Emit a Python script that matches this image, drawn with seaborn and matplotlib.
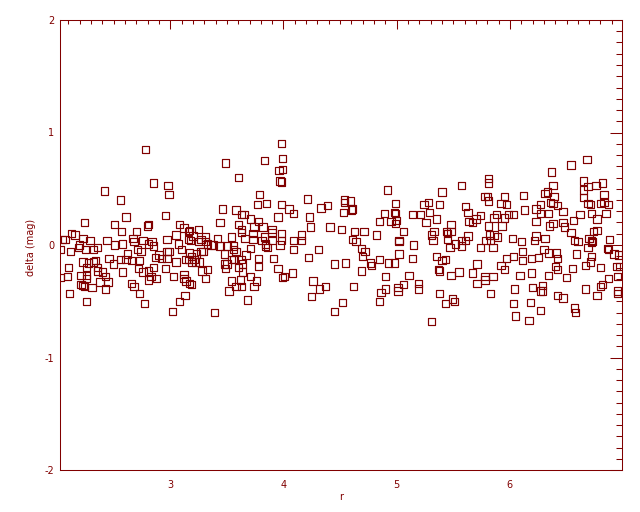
import matplotlib
matplotlib.use("Agg")
import matplotlib.pyplot as plt
from matplotlib.ticker import MultipleLocator
import seaborn as sns
import pandas as pd

# r values left to right (roughly in strips)
r = [
    2.42, 2.24, 2.51, 2.13, 2.16, 2.05, 2.07, 2.23, 2.03, 2.12, 2.20, 2.19, 2.25, 2.29, 2.32,
    2.36, 2.44, 2.51, 2.23, 2.28, 2.34, 2.32, 2.46, 2.50, 2.10, 2.26, 2.36, 2.36, 2.40, 2.43,
    2.21, 2.26, 2.26, 2.03, 2.09, 2.21, 2.23, 2.24, 2.31, 2.38, 2.45, 2.43, 2.11, 2.26,
    2.78, 2.85, 2.98, 2.99, 2.56, 2.61, 2.96, 2.80, 2.81, 2.57, 2.70, 2.67, 2.68, 2.76, 2.97,
    2.58, 2.81, 2.84, 2.85, 2.71, 2.74, 2.62, 2.61, 2.87, 2.90, 2.92, 2.97, 2.99, 2.97, 2.56,
    2.66, 2.73, 2.58, 2.72, 2.76, 2.81, 2.85, 2.96, 2.83, 2.81, 2.88, 3.03, 2.66, 2.68, 2.73,
    2.77, 3.02,
    3.49, 3.46, 3.44, 3.08, 3.12, 3.25, 3.17, 3.16, 3.05, 3.20, 3.27, 3.31, 3.42, 3.54, 3.16,
    3.18, 3.25, 3.31, 3.33, 3.36, 3.38, 3.44, 3.50, 3.07, 3.10, 3.29, 3.27, 3.17, 3.48, 3.23,
    3.19, 3.16, 3.14, 3.21, 3.22, 3.26, 3.19, 3.05, 3.48, 3.50, 3.49, 3.54, 3.28, 3.33, 3.12,
    3.31, 3.14, 3.12, 3.17, 3.19, 3.54, 3.52, 3.13, 3.08, 3.39,
    3.98, 3.83, 3.99, 3.96, 3.99, 3.97, 3.98, 3.60, 3.79, 3.77, 3.85, 3.98, 4.05, 3.58, 3.63,
    3.65, 3.71, 3.78, 3.95, 3.60, 3.63, 3.63, 3.74, 3.82, 3.90, 3.90, 3.98, 3.98, 3.73, 3.73,
    3.66, 3.83, 3.81, 3.90, 3.84, 3.86, 3.84, 3.97, 3.56, 3.56, 3.58, 3.71, 3.67, 3.56, 3.63,
    3.78, 3.91, 3.64, 3.60, 3.64, 3.78, 3.95, 3.71, 3.76, 3.62, 4.01, 3.99, 3.58, 3.63, 3.74,
    3.68,
    4.21, 4.09, 4.23, 4.33, 4.39, 4.54, 4.54, 4.53, 4.24, 4.41, 4.51, 4.16, 4.09, 4.16, 4.09,
    4.31, 4.22, 4.45, 4.55, 4.08, 4.26, 4.32, 4.37, 4.25, 4.52, 4.45,
    4.92, 4.59, 4.99, 4.60, 4.61, 4.89, 4.98, 4.99, 5.00, 4.85, 4.95, 4.99, 5.06, 4.63, 4.71,
    4.82, 4.61, 4.64, 5.02, 5.02, 4.69, 4.72, 4.70, 5.02, 4.77, 4.78, 4.85, 4.93, 4.98, 4.69,
    4.90, 5.06, 5.01, 5.01, 4.62, 4.90, 4.86, 4.85,
    5.57, 5.40, 5.24, 5.28, 5.38, 5.14, 5.21, 5.29, 5.26, 5.35, 5.48, 5.33, 5.31, 5.32, 5.44,
    5.48, 5.45, 5.45, 5.15, 5.47, 5.52, 5.57, 5.57, 5.14, 5.35, 5.40, 5.43, 5.37, 5.38, 5.55,
    5.48, 5.11, 5.19, 5.19, 5.38, 5.49, 5.51, 5.43, 5.31,
    5.81, 5.81, 5.78, 5.80, 5.81, 5.95, 5.92, 5.97, 5.61, 5.63, 5.64, 5.67, 5.70, 5.74, 5.86,
    5.88, 5.95, 5.99, 6.03, 5.81, 5.93, 5.63, 5.61, 5.82, 5.86, 5.89, 5.79, 5.83, 5.74, 5.85,
    6.02, 6.10, 5.97, 6.03, 6.11, 6.11, 5.92, 5.95, 5.71, 5.67, 5.78, 5.78, 5.85, 6.09, 5.71,
    6.04, 5.83, 6.03, 6.05,
    6.54, 6.37, 6.38, 6.31, 6.33, 6.12, 6.39, 6.36, 6.38, 6.27, 6.42, 6.23, 6.13, 6.47, 6.27,
    6.34, 6.62, 6.56, 6.23, 6.35, 6.38, 6.47, 6.48, 6.54, 6.23, 6.22, 6.31, 6.57, 6.60, 6.30,
    6.34, 6.41, 6.42, 6.25, 6.19, 6.59, 6.40, 6.42, 6.55, 6.50, 6.34, 6.19, 6.20, 6.29, 6.29,
    6.27, 6.42, 6.47, 6.18, 6.27, 6.57, 6.58, 6.17,
    6.68, 6.65, 6.69, 6.76, 6.82, 6.65, 6.83, 6.65, 6.69, 6.71, 6.80, 6.83, 6.87, 6.72, 6.77,
    6.85, 6.74, 6.77, 6.88, 6.72, 6.73, 6.72, 6.70, 6.69, 6.86, 6.87, 6.92, 6.96, 6.72, 6.71,
    6.67, 6.80, 6.94, 6.97, 6.95, 6.87, 6.82, 6.80, 6.67, 6.95, 6.95, 6.77,
]

# delta (mag), same order as r
delta = [
    0.48, 0.20, 0.18, 0.10, 0.09, 0.05, 0.05, 0.06, -0.04, -0.06, 0.00, -0.02, -0.04, 0.04, -0.04,
    -0.02, 0.04, 0.00, -0.15, -0.16, -0.14, -0.15, -0.12, -0.17, -0.20, -0.20, -0.20, -0.23, -0.24, -0.28,
    -0.27, -0.27, -0.30, -0.29, -0.28, -0.35, -0.36, -0.37, -0.38, -0.33, -0.33, -0.39, -0.43, -0.50,
    0.85, 0.55, 0.53, 0.45, 0.40, 0.25, 0.26, 0.17, 0.18, 0.12, 0.12, 0.06, 0.03, 0.04, 0.05,
    0.01, 0.01, 0.03, -0.01, -0.04, -0.06, -0.08, -0.13, -0.11, -0.09, -0.12, -0.06, -0.06, -0.12, -0.13,
    -0.14, -0.14, -0.24, -0.21, -0.24, -0.23, -0.20, -0.21, -0.28, -0.31, -0.30, -0.28, -0.34, -0.37, -0.43,
    -0.52, -0.59,
    0.73, 0.32, 0.20, 0.18, 0.15, 0.14, 0.13, 0.12, 0.09, 0.08, 0.05, 0.07, 0.06, 0.07, 0.05,
    0.04, 0.03, 0.03, 0.01, 0.00, 0.00, -0.01, -0.01, 0.01, -0.04, -0.06, -0.06, -0.07, -0.08, -0.08,
    -0.10, -0.13, -0.13, -0.13, -0.15, -0.15, -0.15, -0.15, -0.17, -0.17, -0.21, -0.13, -0.23, -0.22, -0.26,
    -0.30, -0.32, -0.30, -0.34, -0.35, -0.32, -0.41, -0.45, -0.50, -0.60,
    0.90, 0.75, 0.77, 0.66, 0.67, 0.57, 0.56, 0.60, 0.45, 0.36, 0.37, 0.36, 0.32, 0.31, 0.27,
    0.27, 0.23, 0.21, 0.25, 0.18, 0.14, 0.11, 0.16, 0.16, 0.14, 0.11, 0.10, 0.04, 0.10, 0.05,
    0.06, 0.07, 0.04, 0.04, -0.01, -0.02, 0.01, 0.00, -0.01, -0.04, -0.06, -0.03, -0.09, -0.13, -0.13,
    -0.12, -0.12, -0.17, -0.20, -0.24, -0.19, -0.21, -0.28, -0.32, -0.31, -0.28, -0.29, -0.37, -0.37, -0.37,
    -0.49,
    0.41, 0.28, 0.25, 0.33, 0.35, 0.40, 0.38, 0.29, 0.16, 0.16, 0.14, 0.09, 0.04, 0.04, -0.04,
    -0.04, -0.11, -0.17, -0.16, -0.25, -0.32, -0.39, -0.37, -0.46, -0.51, -0.59,
    0.49, 0.39, 0.37, 0.31, 0.32, 0.28, 0.29, 0.28, 0.22, 0.21, 0.21, 0.19, 0.12, 0.12, 0.12,
    0.09, 0.05, 0.03, 0.04, 0.03, -0.03, -0.06, -0.10, -0.08, -0.16, -0.18, -0.13, -0.16, -0.16, -0.23,
    -0.28, -0.35, -0.38, -0.41, -0.37, -0.39, -0.42, -0.50,
    0.53, 0.47, 0.36, 0.38, 0.36, 0.27, 0.27, 0.29, 0.20, 0.23, 0.18, 0.12, 0.09, 0.04, 0.12,
    0.12, 0.10, 0.05, 0.00, -0.02, 0.01, 0.04, -0.01, -0.12, -0.10, -0.14, -0.13, -0.22, -0.23, -0.24,
    -0.27, -0.27, -0.34, -0.39, -0.43, -0.48, -0.50, -0.52, -0.68,
    0.59, 0.55, 0.43, 0.43, 0.39, 0.43, 0.37, 0.36, 0.34, 0.29, 0.21, 0.20, 0.23, 0.26, 0.24,
    0.27, 0.24, 0.27, 0.27, 0.17, 0.17, 0.08, 0.04, 0.09, 0.09, 0.07, 0.04, 0.04, -0.02, -0.02,
    0.06, 0.03, -0.12, -0.10, -0.06, -0.14, -0.18, -0.22, -0.17, -0.25, -0.28, -0.31, -0.28, -0.27, -0.34,
    -0.39, -0.43, -0.52, -0.63,
    0.71, 0.65, 0.53, 0.46, 0.47, 0.44, 0.43, 0.38, 0.37, 0.36, 0.35, 0.32, 0.31, 0.30, 0.28,
    0.28, 0.27, 0.22, 0.21, 0.17, 0.19, 0.20, 0.16, 0.11, 0.08, 0.04, 0.06, 0.04, 0.03, -0.04,
    -0.07, -0.07, -0.12, -0.11, -0.12, -0.08, -0.19, -0.22, -0.21, -0.29, -0.27, -0.25, -0.38, -0.36, -0.41,
    -0.41, -0.45, -0.47, -0.51, -0.58, -0.56, -0.60, -0.67,
    0.76, 0.57, 0.52, 0.53, 0.55, 0.49, 0.45, 0.42, 0.37, 0.36, 0.37, 0.38, 0.36, 0.28, 0.23,
    0.28, 0.12, 0.13, 0.05, 0.04, 0.03, 0.02, 0.06, -0.02, -0.03, -0.04, -0.08, -0.09, -0.10, -0.15,
    -0.18, -0.20, -0.19, -0.19, -0.28, -0.30, -0.35, -0.37, -0.39, -0.41, -0.43, -0.45,
]

x_ticks = [3, 4, 5, 6]
y_ticks = [-2, -1, 0, 1, 2]

ink = "#800000"

sns.set_style("white")
plt.rcParams["font.family"] = ["DejaVu Sans"]
plt.rcParams["axes.unicode_minus"] = False

df = pd.DataFrame({"r": r, "delta": delta})

fig = plt.figure(figsize=(6.4, 5.12), dpi=100)
ax = fig.add_axes([60 / 640, 1 - 470 / 512, 562 / 640, 450 / 512])

sns.scatterplot(data=df, x="r", y="delta", marker="s", s=28,
                facecolor="none", edgecolor=ink, linewidth=0.85, ax=ax)

ax.set_xlim(2.026, 6.99)
ax.set_ylim(-2, 2)
ax.set_xticks(x_ticks)
ax.set_yticks(y_ticks)
ax.xaxis.set_minor_locator(MultipleLocator(0.1))
ax.yaxis.set_minor_locator(MultipleLocator(0.1))

# IDL style box: inward ticks on every side
ax.tick_params(which="both", direction="in", top=True, right=True,
               color=ink, labelcolor=ink, width=0.75, labelsize=7)
ax.tick_params(axis="x", which="major", length=6.5, pad=7)
ax.tick_params(axis="x", which="minor", length=3.2)
ax.tick_params(axis="y", which="major", length=8.4, pad=4)
ax.tick_params(axis="y", which="minor", length=4.3)
for sp in ax.spines.values():
    sp.set_color(ink)
    sp.set_linewidth(0.75)

ax.set_xlabel("")
ax.set_ylabel("")
fig.text(31 / 640, 1 - 247 / 512, "delta (mag)", rotation=90,
         ha="center", va="center", color=ink, fontsize=7)
fig.text(341 / 640, 1 - 497 / 512, "r", ha="center", va="center",
         color=ink, fontsize=7)

fig.savefig("out.png", dpi=100, facecolor="white")
